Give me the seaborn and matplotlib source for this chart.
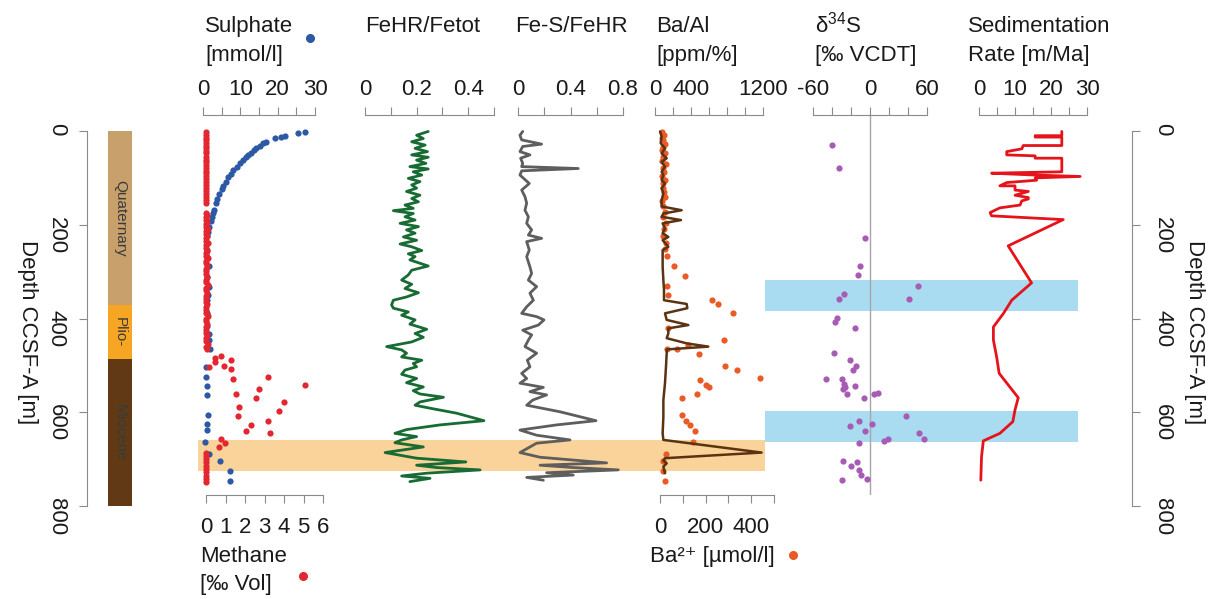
"""
Downcore profiles: porewater, Fe speciation, Ba, d34S and sedimentation rate
against depth, with the stratigraphic column on the left.
"""

import matplotlib
matplotlib.use("Agg")
import matplotlib.pyplot as plt
from matplotlib.lines import Line2D
import seaborn as sns

sns.set_style("white")
plt.rcParams.update({
    "font.family": ["Liberation Sans", "DejaVu Sans"],
    "mathtext.default": "regular",
    "axes.edgecolor": "#8a8a8a",
    "xtick.color": "#8a8a8a",
    "ytick.color": "#8a8a8a",
    "xtick.labelcolor": "#1a1a1a",
    "ytick.labelcolor": "#1a1a1a",
})

# --- data -------------------------------------------------------------------
STRAT_NAMES = ["Quaternary", "Plio-", "Miocene"]
STRAT_TOP = [0, 372, 486]
STRAT_BASE = [372, 486, 800]

ORANGE_BAND = (659, 725)
BLUE_BANDS = [(318, 384), (597, 664)]

METHANE_DEPTH = [2, 8, 14, 19, 25, 31, 37, 42, 48, 55, 61, 66, 72, 79, 85, 90, 97, 103,
                 109, 115, 121, 128, 134, 140, 147, 153,
                 174, 179, 184, 189, 194, 199, 204, 209, 214, 219, 224, 229, 234, 239, 244,
                 250, 255, 260, 266, 271, 277, 282, 288, 294, 299, 305, 311, 317, 322, 328,
                 334, 340, 346, 352, 358, 364, 370, 376, 382, 388, 394, 400, 406, 412, 418,
                 424, 430, 436, 442, 448, 454, 460, 466,
                 481, 484, 489, 492, 501, 503, 508, 524, 530, 541, 550, 562, 569, 578, 588,
                 597, 607, 618, 627, 640, 645, 658, 665, 675,
                 686, 693, 700, 707, 714, 721, 728, 735, 742, 748]
METHANE = [0, 0, 0, 0, 0, 0, 0, 0, 0, 0, 0, 0, 0, 0, 0, 0, 0, 0,
           0, 0, 0, 0, 0, 0, 0, 0,
           0, 0.05, 0, 0, 0.05, 0, 0, 0.08, 0, 0, 0.05, 0, 0, 0.1, 0,
           0, 0.05, 0, 0, 0.08, 0, 0, 0.05, 0, 0, 0, 0.05, 0, 0, 0.08,
           0, 0, 0.05, 0, 0, 0, 0.05, 0, 0, 0, 0.08, 0, 0, 0.05, 0,
           0, 0, 0.05, 0, 0, 0.1, 0, 0.05,
           0.77, 0.46, 1.26, 0.44, 0.94, 0.17, 1.26, 3.16, 1.37, 5.06, 2.74, 1.52, 2.56, 4.02, 1.69,
           3.76, 1.66, 3.16, 2.31, 2.07, 3.30, 0.77, 0.97, 0.68,
           0, 0, 0, 0, 0, 0, 0, 0, 0, 0]

SULPHATE_DEPTH = [2, 4, 10, 12, 16, 23, 26, 33, 37, 40, 46, 51, 56, 62, 69, 76, 83, 92, 99,
                  108, 117, 124, 135, 146, 154, 168, 176, 183, 191, 204, 215, 225, 240, 254,
                  268, 288, 311, 332, 350, 360, 389, 417, 432, 446, 464, 503, 524, 545, 563,
                  606, 624, 638, 663, 688, 705, 725, 747]
SULPHATE = [27.3, 25.5, 22.0, 20.9, 19.3, 16.9, 16.0, 15.3, 14.2, 13.7, 12.9, 12.1, 11.5, 10.8,
            10.0, 9.2, 8.1, 7.4, 6.8, 6.1, 5.4, 5.0, 4.4, 3.8, 3.5, 3.0, 2.8, 2.4, 2.1, 1.7,
            1.4, 1.2, 1.2, 1.0, 1.0, 1.5, 1.2, 1.5, 1.3, 1.2, 1.2, 1.0, 1.5, 1.7, 1.9, 0.8,
            0.7, 1.0, 1.2, 1.3, 1.2, 1.0, 0.6, 1.7, 4.6, 7.2, 7.1]

FEHR_DEPTH = [1, 9, 16, 23, 30, 37, 44, 51, 56, 62,
              69, 76, 81, 87, 94, 101, 108, 115, 122, 129,
              137, 144, 151, 158, 165, 170, 176, 183, 190, 197,
              204, 211, 218, 226, 233, 241, 247, 255, 262, 268,
              275, 288, 297, 307, 318, 327, 336, 345, 354, 361,
              371, 378, 386, 393, 403, 412, 423, 432, 440, 450,
              460, 467, 474, 482, 489, 496, 503, 510, 519, 528,
              537, 546, 554, 561, 568, 578, 585, 592, 602, 618,
              627, 637, 645, 652, 659, 665, 674, 686, 698, 706,
              713, 718, 723, 730, 736, 741, 748]
FEHR = [0.245, 0.200, 0.226, 0.181, 0.233, 0.194, 0.242, 0.181, 0.245, 0.200,
        0.236, 0.174, 0.245, 0.187, 0.220, 0.168, 0.213, 0.181, 0.200, 0.161,
        0.213, 0.181, 0.207, 0.155, 0.187, 0.110, 0.187, 0.155, 0.194, 0.136,
        0.207, 0.161, 0.194, 0.149, 0.200, 0.136, 0.181, 0.220, 0.168, 0.194,
        0.174, 0.245, 0.181, 0.168, 0.142, 0.181, 0.155, 0.207, 0.161, 0.110,
        0.103, 0.110, 0.168, 0.142, 0.194, 0.174, 0.239, 0.194, 0.226, 0.181,
        0.084, 0.142, 0.161, 0.142, 0.220, 0.187, 0.200, 0.155, 0.142, 0.200,
        0.161, 0.226, 0.187, 0.213, 0.304, 0.213, 0.194, 0.258, 0.355, 0.461,
        0.291, 0.161, 0.116, 0.200, 0.142, 0.116, 0.226, 0.078, 0.200, 0.391,
        0.200, 0.278, 0.446, 0.239, 0.142, 0.252, 0.174]

FES_DEPTH = [1, 9, 19, 28, 33, 44, 51, 58, 69, 76, 80, 85, 94, 112, 126, 140, 154, 169,
             183, 197, 211, 222, 229, 236, 254, 268, 290, 304, 318, 332, 346, 361, 375,
             389, 396, 403, 414, 425, 435, 446, 460, 474, 489, 503, 517, 528, 538, 547,
             556, 563, 574, 585, 599, 618, 627, 638, 649, 659, 666, 674, 686, 696, 702,
             708, 713, 718, 723, 729, 734, 739, 745]
FES = [0.036, 0.015, 0.028, 0.180, 0.036, 0.015, 0.091, 0.020, 0.036, 0.028, 0.459, 0.028,
       0.015, 0.086, 0.028, 0.053, 0.066, 0.053, 0.079, 0.066, 0.104, 0.079, 0.180, 0.066,
       0.086, 0.066, 0.091, 0.104, 0.079, 0.142, 0.091, 0.117, 0.066, 0.028, 0.142, 0.198,
       0.155, 0.036, 0.104, 0.079, 0.053, 0.142, 0.071, 0.091, 0.028, 0.066, 0.015, 0.193,
       0.091, 0.218, 0.112, 0.066, 0.320, 0.594, 0.294, 0.015, 0.142, 0.396, 0.142, 0.091,
       0.015, 0.168, 0.421, 0.675, 0.168, 0.421, 0.764, 0.218, 0.421, 0.066, 0.193]

BAAL_DEPTH = [1, 12, 26, 37, 48, 58, 66, 76, 87, 94, 105, 112, 122, 133, 147, 161, 169, 176,
              183, 190, 197, 208, 218, 226, 233, 247, 254, 268, 290, 318, 339, 361, 369, 378,
              389, 403, 414, 421, 432, 442, 453, 460, 466, 474, 503, 538, 574, 610, 645, 659,
              686, 698, 703, 709, 716, 730]
BAAL = [56, 74, 63, 111, 74, 130, 74, 111, 74, 93, 74, 111, 74, 93, 74, 74, 296, 93,
        74, 289, 85, 111, 85, 148, 85, 148, 85, 85, 85, 93, 100, 100, 352, 359,
        111, 130, 370, 148, 148, 130, 352, 592, 130, 130, 122, 111, 93, 93, 85, 93,
        1184, 111, 93, 130, 93, 111]

BARIUM_DEPTH = [2, 8, 14, 20, 27, 34, 41, 48, 55, 63, 71, 79, 87, 95, 104, 112, 121, 130,
                140, 150, 160, 172, 184, 196, 210, 224, 238, 252, 266,
                287, 309, 330, 350, 361, 369, 389, 421, 445, 457, 464, 466, 476, 501, 510,
                526, 531, 542, 547, 562, 570, 606, 618, 627, 640, 663, 688, 704, 725, 746]
BARIUM = [10, 18, 8, 15, 22, 12, 9, 20, 14, 10, 25, 12, 16, 8, 20, 14, 11, 18,
          22, 10, 15, 20, 12, 25, 18, 15, 28, 20, 30,
          61, 110, 29, 34, 227, 253, 322, 34, 282, 124, 29, 73, 173, 285, 339,
          439, 175, 202, 216, 161, 95, 95, 114, 132, 154, 143, 26, 12, 15, 22]

D34S_DEPTH = [30, 80, 229, 288, 307, 331, 348, 359, 359, 398, 407, 421, 473, 489, 501, 509,
              528, 529, 540, 546, 550, 543, 561, 569, 560, 558, 607, 618, 625, 629, 639, 645,
              656, 661, 658, 665, 703, 707, 714, 723, 734, 743, 745]
D34S = [-40.4, -32.3, -5.3, -10.5, -13.0, 50.2, -27.4, -32.3, 41.4, -34.4, -36.5, -15.8,
        -37.9, -21.1, -14.7, -17.5, -46.7, -29.8, -27.4, -26.3, -28.1, -15.8, -24.6, -6.3,
        4.2, 8.1, 37.9, -11.2, 1.8, -21.1, -5.3, 51.9, 57.2, 14.7, 19.3, -11.2, -28.1,
        -14.0, -20.4, -11.6, -9.8, -2.8, -29.8]

SEDRATE_DEPTH = [1, 10, 10, 13, 13, 31, 31, 38, 44, 51, 53, 58, 58, 87, 90, 94, 97, 100,
                 105, 110, 117, 117, 126, 129, 137, 142, 145, 149, 158, 164, 174, 181, 189,
                 245, 324, 361, 389, 418, 446, 482, 517, 569, 595, 620, 645, 661, 695, 745]
SEDRATE = [23.0, 23.0, 15.6, 15.6, 23.0, 23.0, 12.3, 11.9, 7.7, 7.7, 15.6, 15.6, 23.0,
           23.0, 3.5, 15.6, 28.1, 15.6, 16.0, 7.7, 5.8, 10.0, 10.0, 13.7, 10.0, 13.7, 13.7,
           11.9, 11.4, 5.8, 3.1, 3.5, 23.4, 8.1, 14.6, 9.1, 6.8, 4.0, 4.0, 4.9, 5.6, 10.9,
           10.0, 9.4, 5.8, 1.2, 0.7, 0.5]

DEPTH_TICKS = [0, 200, 400, 600, 800]

# --- layout (pixels of the 1217 x 599 canvas) -------------------------------
W, H = 1217, 599
D_TOP = 131              # pixel row of depth 0
D_SCALE = 375 / 800      # pixels per metre
PANEL_TOP, PANEL_BOT = 115, 495
PANEL_YLIM = ((PANEL_BOT - D_TOP) / D_SCALE, (PANEL_TOP - D_TOP) / D_SCALE)
FS = 16

C_SULPH = "#2c58a6"
C_METH = "#e32630"
C_FEHR = "#176b33"
C_FES = "#5e5e5e"
C_BAAL = "#5a3312"
C_BA = "#ea5a26"
C_D34S = "#a75bb5"
C_SED = "#e5141b"
STRAT_COLORS = ["#c8a06c", "#f6a623", "#613a15"]

fig = plt.figure(figsize=(W / 100, H / 100), dpi=100)


def eixo(x0, x1, y0, y1):
    return fig.add_axes([x0 / W, 1 - y1 / H, (x1 - x0) / W, (y1 - y0) / H])


def estilo(ax, lado, lim, ticks, shown):
    ax.set_xlim(lim)
    ax.set_ylim(PANEL_YLIM)
    ax.patch.set_visible(False)
    for s in ax.spines:
        ax.spines[s].set_visible(s == lado)
        ax.spines[s].set_linewidth(0.8)
    ax.set_yticks([])
    ax.set_xticks(ticks)
    ax.set_xticklabels([f"{t:g}" if t in shown else "" for t in ticks])
    ax.xaxis.set_ticks_position(lado)
    ax.tick_params(axis="x", length=6, width=0.8, labelsize=FS,
                   pad=4.5 if lado == "top" else 9.5)
    ax.set_xlabel("")
    ax.set_ylabel("")


def linha(ax, x, y, cor, lw=2.0):
    sns.lineplot(x=x, y=y, ax=ax, sort=False, estimator=None, orient="y",
                 color=cor, lw=lw, clip_on=False)


def pontos(ax, x, y, cor):
    sns.scatterplot(x=x, y=y, ax=ax, color=cor, s=20, linewidth=0, clip_on=False)


# bands behind everything
bg = eixo(198, 1078, PANEL_TOP, PANEL_BOT)
bg.set_xlim(0, 1)
bg.set_ylim(PANEL_YLIM)
bg.axis("off")
split = (765 - 198) / (1078 - 198)
bg.axhspan(*ORANGE_BAND, xmin=0, xmax=split, color="#f9d39a", lw=0)
for b in BLUE_BANDS:
    bg.axhspan(*b, xmin=split, xmax=1, color="#a9dcf1", lw=0)

# stratigraphic column
col = eixo(108, 132, D_TOP, D_TOP + 375)
col.set_xlim(0, 1)
col.set_ylim(800, 0)
col.axis("off")
for nome, top, base, cor in zip(STRAT_NAMES, STRAT_TOP, STRAT_BASE, STRAT_COLORS):
    col.axhspan(top, base, color=cor, lw=0)
    col.text(0.5, (top + base) / 2, nome, rotation=-90, ha="center", va="center",
             fontsize=11, color="#3a3a3a")

# depth axes
for x0, x1, lado, lx in [(87, 100, "left", 27), (1100, 1132, "right", 1195)]:
    ax = eixo(x0, x1, D_TOP, D_TOP + 375)
    ax.set_ylim(800, 0)
    ax.patch.set_visible(False)
    for s in ax.spines:
        ax.spines[s].set_visible(s == lado)
        ax.spines[s].set_linewidth(0.8)
    ax.set_xticks([])
    ax.set_yticks(DEPTH_TICKS)
    ax.yaxis.set_ticks_position(lado)
    ax.tick_params(axis="y", length=6, width=0.8, labelsize=FS, labelrotation=-90, pad=8.5)
    fig.text(lx / W, 1 - 332 / H, "Depth CCSF-A [m]", rotation=-90, ha="center",
             va="center", fontsize=FS, color="#1a1a1a")

# sulphate (top) + methane (bottom)
ax = eixo(203, 315, PANEL_TOP, PANEL_BOT)
pontos(ax, SULPHATE, SULPHATE_DEPTH, C_SULPH)
estilo(ax, "top", (0, 30), [0, 5, 10, 15, 20, 25, 30], [0, 10, 20, 30])
ax = eixo(206, 323, PANEL_TOP, PANEL_BOT)
pontos(ax, METHANE, METHANE_DEPTH, C_METH)
estilo(ax, "bottom", (0, 6), [0, 1, 2, 3, 4, 5, 6], [0, 1, 2, 3, 4, 5, 6])

# FeHR/Fetot
ax = eixo(365, 494, PANEL_TOP, PANEL_BOT)
linha(ax, FEHR, FEHR_DEPTH, C_FEHR)
estilo(ax, "top", (0, 0.5), [0, 0.1, 0.2, 0.3, 0.4, 0.5], [0, 0.2, 0.4])

# Fe-S/FeHR
ax = eixo(518, 623, PANEL_TOP, PANEL_BOT)
linha(ax, FES, FES_DEPTH, C_FES)
estilo(ax, "top", (0, 0.8), [0, 0.2, 0.4, 0.6, 0.8], [0, 0.4, 0.8])

# Ba/Al (top) + porewater Ba (bottom)
ax = eixo(660, 774, PANEL_TOP, PANEL_BOT)
pontos(ax, BARIUM, BARIUM_DEPTH, C_BA)
estilo(ax, "bottom", (0, 500), [0, 100, 200, 300, 400, 500], [0, 200, 400])
ax = eixo(655, 763, PANEL_TOP, PANEL_BOT)
linha(ax, BAAL, BAAL_DEPTH, C_BAAL, lw=1.8)
estilo(ax, "top", (0, 1200), [0, 200, 400, 600, 800, 1000, 1200], [0, 400, 1200])

# d34S
ax = eixo(813, 927, PANEL_TOP, PANEL_BOT)
ax.axvline(0, color="#a6a6a6", lw=1, zorder=0)
pontos(ax, D34S, D34S_DEPTH, C_D34S)
estilo(ax, "top", (-60, 60), [-60, -40, -20, 0, 20, 40, 60], [-60, 0, 60])

# sedimentation rate
ax = eixo(979, 1087, PANEL_TOP, PANEL_BOT)
linha(ax, SEDRATE, SEDRATE_DEPTH, C_SED)
estilo(ax, "top", (0, 30), [0, 5, 10, 15, 20, 25, 30], [0, 10, 20, 30])

# panel titles
titulos = [
    ("Sulphate", 205, 32), ("[mmol/l]", 205, 61),
    ("FeHR/Fetot", 365, 32), ("Fe-S/FeHR", 515, 32),
    ("Ba/Al", 656, 32), ("[ppm/%]", 656, 61),
    ("δ$^{34}$S", 815, 32), ("[‰ VCDT]", 815, 61),
    ("Sedimentation", 968, 32), ("Rate [m/Ma]", 968, 61),
    ("Methane", 200, 562), ("[‰ Vol]", 200, 590),
    ("Ba²⁺ [µmol/l]", 650, 562),
]
for txt, x, y in titulos:
    fig.text(x / W, 1 - y / H, txt, ha="left", va="baseline", fontsize=FS, color="#1a1a1a")

# legend dots next to the titles
for x, y, cor in [(310, 38, C_SULPH), (303, 576, C_METH), (793, 555, C_BA)]:
    fig.add_artist(Line2D([x / W], [1 - y / H], marker="o", ms=5.5, color=cor, lw=0,
                          transform=fig.transFigure))

fig.savefig("out.png", dpi=100)
